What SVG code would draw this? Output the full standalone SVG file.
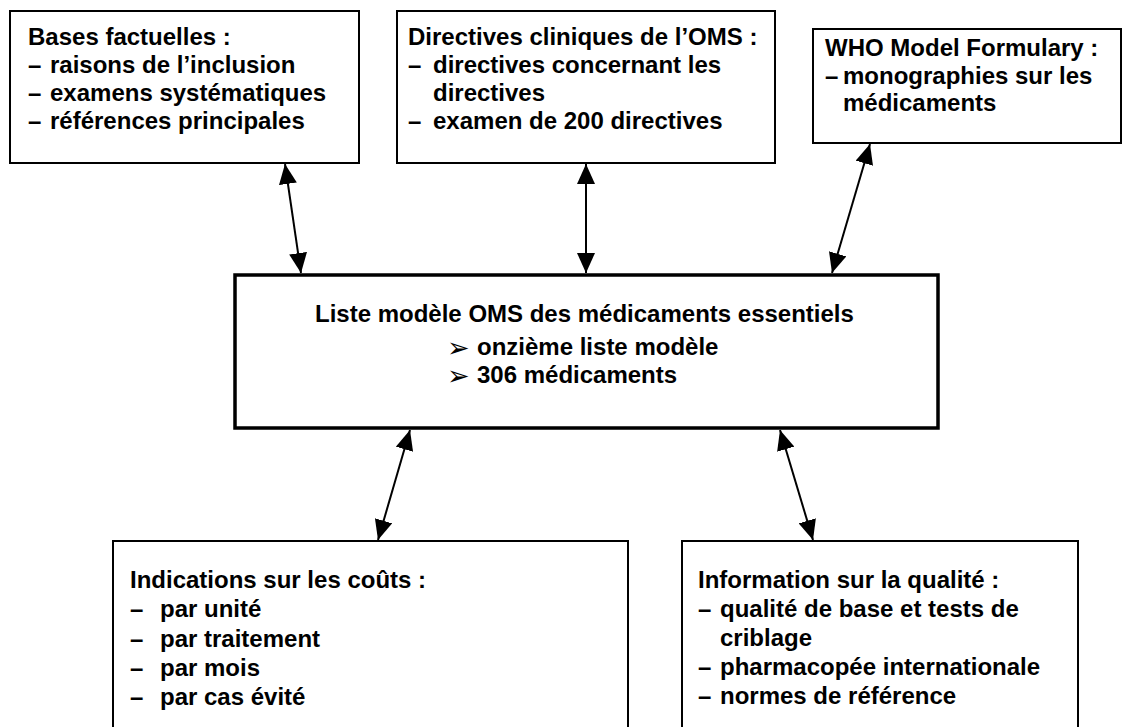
<svg xmlns="http://www.w3.org/2000/svg" width="1125" height="727" viewBox="0 0 1125 727">
<style>
.box{fill:#fff;stroke:#000;stroke-width:2}
.main{fill:#fff;stroke:#000;stroke-width:3.5}
text{font-family:"Liberation Sans",Arial,sans-serif;font-weight:bold;font-size:24px;fill:#000}
.sym{font-family:"DejaVu Sans",sans-serif;font-weight:normal;font-size:27px}
.conn line{stroke:#000;stroke-width:2;marker-start:url(#ah);marker-end:url(#ah)}
</style>
<defs>
<marker id="ah" viewBox="0 0 20 18" refX="20" refY="9" markerWidth="20" markerHeight="18" markerUnits="userSpaceOnUse" orient="auto-start-reverse">
<path d="M0,0 L20,9 L0,18 z" fill="#000"/>
</marker>
</defs>
<rect width="1125" height="727" fill="#fff"/>
<g id="bases">
<rect class="box" x="10" y="11" width="349" height="152"/>
<text x="28" y="45">Bases factuelles :</text>
<text x="28" y="73">–</text><text x="50" y="73">raisons de l’inclusion</text>
<text x="28" y="101">–</text><text x="50" y="101">examens systématiques</text>
<text x="28" y="129">–</text><text x="50" y="129">références principales</text>
</g>
<g id="directives">
<rect class="box" x="397" y="11" width="378" height="152"/>
<text x="408" y="45">Directives cliniques de l’OMS :</text>
<text x="408" y="73">–</text><text x="433" y="73">directives concernant les</text>
<text x="433" y="101">directives</text>
<text x="408" y="129">–</text><text x="433" y="129">examen de 200 directives</text>
</g>
<g id="formulary">
<rect class="box" x="813" y="29" width="308" height="114"/>
<text x="825" y="56">WHO Model Formulary :</text>
<text x="825" y="84">–</text><text x="843" y="84">monographies sur les</text>
<text x="843" y="111">médicaments</text>
</g>
<g id="liste">
<rect class="main" x="235" y="275" width="703" height="153"/>
<text x="315" y="322">Liste modèle OMS des médicaments essentiels</text>
<text class="sym" x="447" y="357">➢</text><text x="477" y="355">onzième liste modèle</text>
<text class="sym" x="447" y="385">➢</text><text x="477" y="383">306 médicaments</text>
</g>
<g id="couts">
<rect class="box" x="113" y="541" width="515" height="220"/>
<text x="130" y="588">Indications sur les coûts :</text>
<text x="130" y="617">–</text><text x="160" y="617">par unité</text>
<text x="130" y="647">–</text><text x="160" y="647">par traitement</text>
<text x="130" y="676">–</text><text x="160" y="676">par mois</text>
<text x="130" y="705">–</text><text x="160" y="705">par cas évité</text>
</g>
<g id="qualite">
<rect class="box" x="682" y="541" width="396" height="220"/>
<text x="698" y="588">Information sur la qualité :</text>
<text x="698" y="617">–</text><text x="720" y="617">qualité de base et tests de</text>
<text x="720" y="646">criblage</text>
<text x="698" y="675">–</text><text x="720" y="675">pharmacopée internationale</text>
<text x="698" y="704">–</text><text x="720" y="704">normes de référence</text>
</g>
<g id="connectors" class="conn">
<line x1="285" y1="164" x2="301" y2="273"/>
<line x1="586" y1="164" x2="586" y2="273"/>
<line x1="870" y1="144" x2="832" y2="273"/>
<line x1="410" y1="430" x2="378" y2="540"/>
<line x1="780" y1="430" x2="813" y2="540"/>
</g>
</svg>
